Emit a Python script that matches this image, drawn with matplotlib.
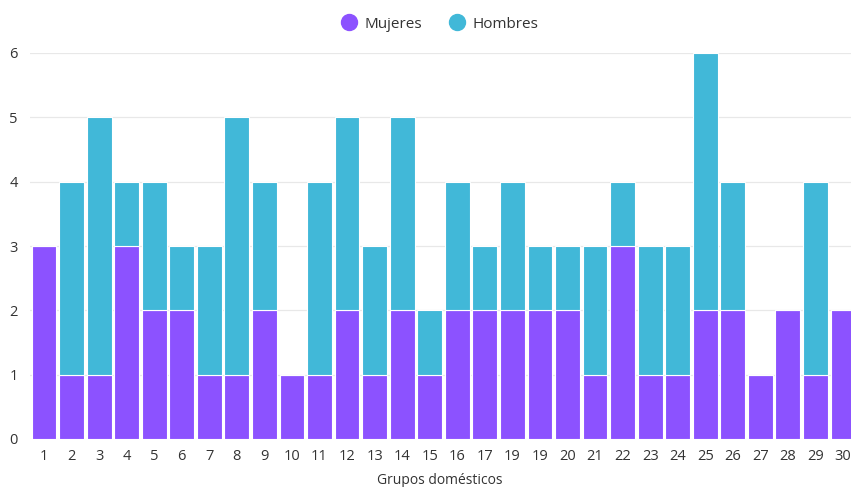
import matplotlib
matplotlib.use("Agg")
import matplotlib.pyplot as plt
from matplotlib.lines import Line2D
import numpy as np

plt.rcParams['font.family'] = ['Open Sans', 'DejaVu Sans']

labels = ["1","2","3","4","5","6","7","8","9","10","11","12","13","14","15",
          "16","17","19","19","20","21","22","23","24","25","26","27","28","29","30"]
mujeres = [3,1,1,3,2,2,1,1,2,1,1,2,1,2,1,2,2,2,2,2,1,3,1,1,2,2,1,2,1,2]
hombres = [0,3,4,1,2,1,2,4,2,0,3,3,2,3,1,2,1,2,1,1,2,1,2,2,4,2,0,0,3,0]

c_muj = "#8c52ff"
c_hom = "#41b8d8"

W, H = 851, 487
fig = plt.figure(figsize=(W/100, H/100), dpi=100)
slot = (843-44)/29
left = 44 - slot/2
right = 843 + slot/2
ax = fig.add_axes([left/W, (H-439)/H, (right-left)/W, (439-53)/H])

x = np.arange(len(labels))
ax.bar(x, mujeres, width=0.9, color=c_muj, edgecolor="white", linewidth=0.8, zorder=3)
ax.bar(x, hombres, width=0.9, bottom=mujeres, color=c_hom, edgecolor="white", linewidth=0.8, zorder=3)

ax.set_xlim(-0.5, len(labels)-0.5)
ax.set_ylim(0, 6)
ax.set_yticks(range(0, 7))
ax.set_xticks(x)
ax.set_xticklabels(labels)
ax.tick_params(length=0, labelsize=10.5, labelcolor="#333333")
ax.tick_params(axis='x', pad=7)
ax.tick_params(axis='y', pad=9)
ax.grid(axis='y', color="#e8e8e8", linewidth=0.9, zorder=0)
for s in ax.spines.values():
    s.set_visible(False)

fig.text(440/W, 1-481/H, "Grupos domésticos", ha="center", va="center", fontsize=10, color="#333333")

handles = [Line2D([], [], marker='o', linestyle='', markersize=11.5, color=c_muj, label="Mujeres"),
           Line2D([], [], marker='o', linestyle='', markersize=11.5, color=c_hom, label="Hombres")]
fig.legend(handles=handles, loc="center", bbox_to_anchor=(439/W, 1-24/H), ncol=2, frameon=False,
           fontsize=11, handletextpad=0.4, columnspacing=1.7, handlelength=1.2, labelcolor="#333333")

fig.savefig("out.png", dpi=100)
